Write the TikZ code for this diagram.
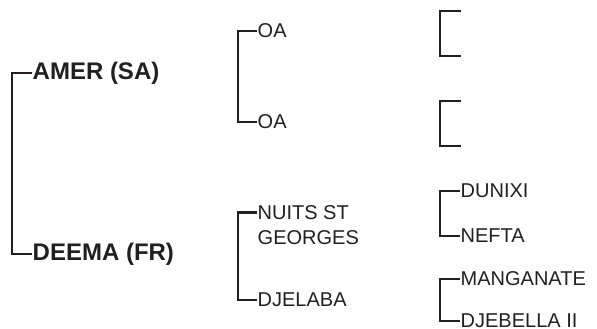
\documentclass[tikz,border=0pt]{standalone}
\usepackage{fontspec}
\setmainfont{Liberation Sans}
\usepackage{xcolor}
\usepackage{tikz}
\usetikzlibrary{positioning}
\definecolor{inkgrey}{HTML}{231F20}

\begin{document}
\begin{tikzpicture}[x=1pt, y=-1pt,
    bracket/.style={draw=inkgrey, line width=2.2pt},
    damname/.style={anchor=west, inner sep=0.5pt, text=inkgrey,
                    font=\fontsize{24}{28}\selectfont\bfseries},
    horsename/.style={anchor=west, inner sep=0.5pt, text=inkgrey, align=left,
                      font=\fontsize{20}{25}\selectfont}]
    \useasboundingbox (0,0) rectangle (597,329);

    % first generation
    \node[damname] (amer)  at (32,73)  {AMER (SA)};
    \node[damname] (deema) at (32,254) {DEEMA (FR)};

    % second generation
    \node[horsename] (oaup)   at (257,31)  {OA};
    \node[horsename] (oadown) at (257,122) {OA};
    \node[horsename] (nuits)  at (257,225) {NUITS ST\\GEORGES};
    \node[horsename] (djelaba) at (257,300) {DJELABA};

    % third generation
    \coordinate (blankA) at (461,11);
    \coordinate (blankB) at (461,56);
    \coordinate (blankC) at (461,101);
    \coordinate (blankD) at (461,146);
    \node[horsename] (dunixi)    at (460,191) {DUNIXI};
    \node[horsename] (nefta)     at (460,236) {NEFTA};
    \node[horsename] (manganate) at (460,279) {MANGANATE};
    \node[horsename] (djebella)  at (460,321) {DJEBELLA II};

    \draw[bracket] (amer.west) -- ++(-20,0) |- (deema.west);
    \draw[bracket] (oaup.west) -- ++(-19,0) |- (oadown.west);
    \draw[bracket] ([yshift=12.5pt]nuits.west) -- ++(-19,0) |- (djelaba.west);
    \draw[bracket] (blankA) -- ++(-21,0) |- (blankB);
    \draw[bracket] (blankC) -- ++(-21,0) |- (blankD);
    \draw[bracket] (dunixi.west) -- ++(-20,0) |- (nefta.west);
    \draw[bracket] (manganate.west) -- ++(-20,0) |- (djebella.west);
\end{tikzpicture}
\end{document}
